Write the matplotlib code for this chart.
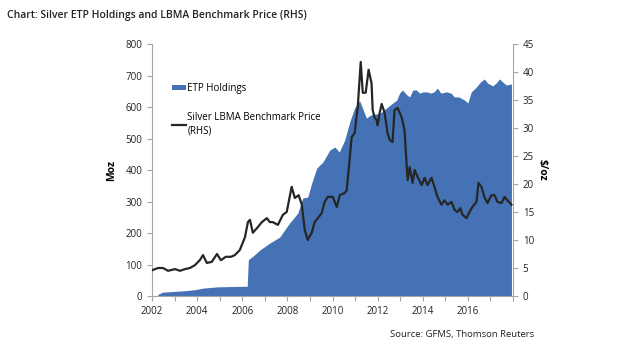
import numpy as np
import matplotlib.pyplot as plt
from matplotlib.patches import Patch
from matplotlib.lines import Line2D

# ETP holdings (Moz), decimal year
etp_year = [2002.22, 2002.27, 2002.45, 2003.1, 2003.5, 2003.9, 2004.26, 2004.9, 2005.5, 2006.22,
            2006.27, 2006.5, 2006.78, 2007.22, 2007.66, 2008.1, 2008.46, 2008.68, 2008.9, 2009.08,
            2009.3, 2009.57, 2009.88, 2010.1, 2010.3, 2010.54, 2010.76, 2010.98, 2011.2, 2011.5,
            2011.7, 2012.1, 2012.4, 2012.66, 2012.85, 2012.97, 2013.1, 2013.3, 2013.42, 2013.56,
            2013.72, 2013.86, 2014.0, 2014.2, 2014.35, 2014.5, 2014.65, 2014.8, 2015.05, 2015.25,
            2015.4, 2015.6, 2015.85, 2016.0, 2016.15, 2016.37, 2016.55, 2016.73, 2016.87, 2017.1,
            2017.25, 2017.4, 2017.55, 2017.7, 2017.93]
etp_moz = [0, 5, 12, 15, 17, 20, 25, 29, 30, 31,
           115, 128, 146, 168, 187, 232, 263, 311, 314, 359,
           406, 425, 463, 473, 457, 495, 552, 597, 620, 565,
           575, 580, 597, 612, 622, 644, 654, 638, 632, 654,
           654, 644, 648, 648, 644, 648, 660, 644, 648, 644,
           632, 632, 622, 613, 648, 663, 679, 689, 676, 667,
           676, 689, 679, 670, 673]

# Silver LBMA price ($/oz)
px_year = [2002.00, 2002.27, 2002.49, 2002.71, 2003.02, 2003.24, 2003.46, 2003.68, 2003.90, 2004.12,
           2004.26, 2004.43, 2004.65, 2004.88, 2005.05, 2005.27, 2005.50, 2005.67, 2005.89, 2006.12,
           2006.25, 2006.34, 2006.47, 2006.69, 2006.87, 2007.09, 2007.22, 2007.35, 2007.58, 2007.80,
           2007.97, 2008.19, 2008.33, 2008.50, 2008.64, 2008.77, 2008.90, 2009.08, 2009.21, 2009.35,
           2009.52, 2009.65, 2009.79, 2010.01, 2010.19, 2010.32, 2010.54, 2010.63, 2010.85, 2010.98,
           2011.12, 2011.25, 2011.34, 2011.47, 2011.60, 2011.73, 2011.78, 2011.87, 2011.96, 2012.00,
           2012.09, 2012.18, 2012.31, 2012.44, 2012.53, 2012.66, 2012.75, 2012.88, 2013.06, 2013.19,
           2013.28, 2013.33, 2013.42, 2013.55, 2013.64, 2013.77, 2013.95, 2014.08, 2014.21, 2014.39,
           2014.52, 2014.65, 2014.83, 2014.96, 2015.10, 2015.27, 2015.41, 2015.54, 2015.67, 2015.76,
           2015.94, 2016.07, 2016.20, 2016.38, 2016.47, 2016.60, 2016.73, 2016.87, 2017.04, 2017.18,
           2017.31, 2017.49, 2017.62, 2017.75, 2017.93]
px_usd = [4.6, 5.0, 5.0, 4.5, 4.8, 4.5, 4.8, 5.0, 5.5, 6.4,
          7.3, 5.9, 6.1, 7.5, 6.4, 7.0, 7.0, 7.3, 8.2, 10.5,
          13.2, 13.6, 11.3, 12.3, 13.2, 13.9, 13.2, 13.2, 12.7, 14.5,
          15.0, 19.5, 17.5, 18.0, 16.3, 11.8, 10.0, 11.3, 13.2, 13.9,
          14.8, 16.8, 17.7, 17.7, 15.9, 18.0, 18.4, 18.9, 28.4, 29.1,
          33.8, 41.8, 36.3, 36.3, 40.4, 38.0, 33.2, 31.8, 31.4, 30.5,
          32.7, 34.3, 32.7, 29.1, 27.9, 27.5, 33.2, 33.6, 32.0, 29.6,
          23.8, 20.7, 23.0, 20.2, 22.5, 21.3, 19.8, 21.1, 19.8, 21.1,
          19.5, 17.7, 16.3, 17.1, 16.3, 16.8, 15.4, 15.0, 15.7, 14.5,
          13.9, 15.0, 15.9, 16.8, 20.2, 19.5, 17.7, 16.6, 18.0, 18.0,
          16.8, 16.6, 17.7, 17.1, 16.3]

x_ticks = list(range(2002, 2019))
x_labels = [str(y) if y % 2 == 0 and y < 2018 else "" for y in x_ticks]

plt.rcParams['font.family'] = ['Open Sans', 'DejaVu Sans']
blue = "#4472B4"
grey = "#A6A6A6"

fig = plt.figure(figsize=(6.4, 3.51), dpi=100)
ax = fig.add_axes([0.2375, 0.1567, 0.5641, 0.7179])
ax2 = ax.twinx()

ax.fill_between(etp_year, etp_moz, 0, color=blue, linewidth=0, zorder=1)
ax2.plot(px_year, px_usd, color="#262626", linewidth=1.6, zorder=3)

ax.set_xlim(2002, 2018)
ax.set_ylim(0, 800)
ax2.set_ylim(0, 45)
ax.set_yticks(range(0, 801, 100))
ax2.set_yticks(range(0, 46, 5))
ax.set_xticks(x_ticks)
ax.set_xticklabels(x_labels)

for a in (ax, ax2):
    for s in a.spines.values():
        s.set_color(grey)
        s.set_linewidth(0.8)
    a.spines['top'].set_visible(False)
    a.tick_params(colors=grey, labelcolor="#222222", labelsize=7, length=3.5, width=0.8)
ax.spines['right'].set_visible(False)
ax2.spines['left'].set_visible(False)
ax2.spines['bottom'].set_visible(False)

ax.set_ylabel("Moz", fontsize=7.5, fontweight="bold", labelpad=6)
ax2.set_ylabel("$/oz", fontsize=7.5, fontweight="bold", rotation=-90, labelpad=10)

handles = [Patch(facecolor=blue, edgecolor="none"),
           Line2D([0], [0], color="#262626", linewidth=1.6)]
labels = ["ETP Holdings", "Silver LBMA Benchmark Price\n(RHS)"]
ax.legend(handles, labels, loc="upper left", bbox_to_anchor=(0.03, 0.88), frameon=False,
          fontsize=7, handlelength=1.5, handleheight=0.5, handletextpad=0.1, labelspacing=1.9)

fig.text(0.011, 0.972, "Chart: Silver ETP Holdings and LBMA Benchmark Price (RHS)",
         fontsize=7.5, fontweight="semibold", va="top", ha="left", color="#222222")
fig.text(0.834, 0.048, "Source: GFMS, Thomson Reuters", fontsize=6.8, ha="right",
         va="center", color="#222222")

fig.savefig("out.png", dpi=100)
